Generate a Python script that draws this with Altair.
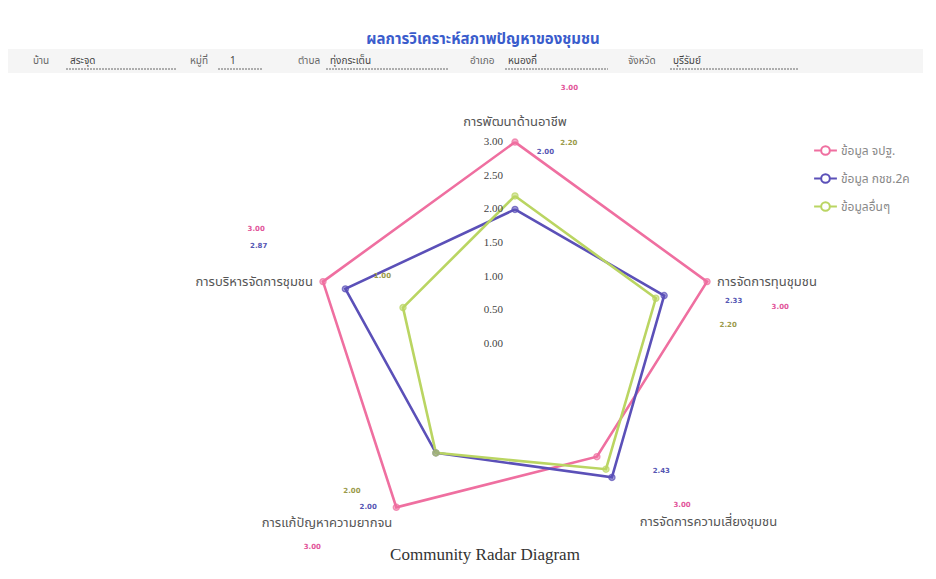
import altair as alt
import pandas as pd

# ---------------- data ----------------
axis_names = ["การพัฒนาด้านอาชีพ", "การจัดการทุนชุมชน", "การจัดการความเสี่ยงชุมชน",
              "การแก้ปัญหาความยากจน", "การบริหารจัดการชุมชน"]
series_names = ["ข้อมูล จปฐ.", "ข้อมูล กชช.2ค", "ข้อมูลอื่นๆ"]
vals_jpt = [3.00, 3.00, 2.07, 3.00, 3.00]
vals_kcc = [2.00, 2.33, 2.45, 2.00, 2.65]
vals_other = [2.20, 2.20, 2.30, 2.00, 1.75]
labels_jpt = ["3.00", "3.00", "3.00", "3.00", "3.00"]
labels_kcc = ["2.00", "2.33", "2.43", "2.00", "2.87"]
labels_other = ["2.20", "2.20", "", "2.00", "1.00"]
tick_values = [0.0, 0.5, 1.0, 1.5, 2.0, 2.5, 3.0]
header_labels = ["บ้าน", "หมู่ที่", "ตำบล", "อำเภอ", "จังหวัด"]
header_values = ["สระจุด", "1", "ทุ่งกระเต็น", "หนองกี่", "บุรีรัมย์"]

# ---------------- styling / layout ----------------
line_colors = ["#ef6fa0", "#5b50b8", "#bad562"]
label_colors = ["#e2559a", "#5656b3", "#9a9a4a"]
label_gap = [0.89, 0.98, 0.45, 1.26, 1.21]   # radial gap of value labels per axis
label_turn = [-12, -10, 10, -9, -6]          # angular nudge (deg) per axis
series_turn = [0, 3, -3]                     # angular nudge (deg) per series
W, H = 915, 561
PX = 67.3            # pixels per unit
CX, CY = 507, 336    # centre of the radar in plot pixels
xdom = [-CX / PX, (W - CX) / PX]
ydom = [-(H - CY) / PX, CY / PX]
header_label_x = [25, 182, 290, 462, 620]
header_value_x = [62, 222, 322, 500, 665]
header_line = [(58, 168), (210, 255), (318, 440), (497, 600), (662, 790)]
THAI = "Noto Sans Thai, Noto Sans, Loma, sans-serif"

X = alt.X("x:Q", scale=alt.Scale(domain=xdom, nice=False, zero=False), axis=None)
Y = alt.Y("y:Q", scale=alt.Scale(domain=ydom, nice=False, zero=False), axis=None)

rows = []
for s, vals in zip(series_names, [vals_jpt, vals_kcc, vals_other]):
    for i in range(6):
        rows.append({"series": s, "axis": i % 5, "order": i, "value": vals[i % 5], "turn": 0})
df = pd.DataFrame(rows)

lab_rows = []
for s, labs, st in zip(series_names, [labels_jpt, labels_kcc, labels_other], series_turn):
    for i, t in enumerate(labs):
        if t:
            lab_rows.append({"series": s, "axis": i, "text": t,
                             "value": float(t) + label_gap[i], "turn": label_turn[i] + st})
df_lab = pd.DataFrame(lab_rows)

df_axes = pd.DataFrame({"axis": list(range(5)), "name": axis_names,
                        "value": [max(tick_values)] * 5, "turn": [0] * 5})
df_ticks = pd.DataFrame({"axis": [0] * len(tick_values), "value": tick_values,
                         "turn": [0] * len(tick_values),
                         "text": [f"{v:.2f}" for v in tick_values]})

ANG = "(90 - 72*datum.axis + datum.turn)*PI/180"

def polar(chart):
    return chart.transform_calculate(
        x=f"cos({ANG})*datum.value", y=f"sin({ANG})*datum.value")

sym = "M-1,0L-0.38,0M0.38,0L1,0M-0.38,0A0.38,0.38,0,1,0,0.38,0A0.38,0.38,0,1,0,-0.38,0"

lines = polar(alt.Chart(df)).mark_line(strokeWidth=2.6).encode(
    x=X, y=Y, order="order:Q",
    color=alt.Color("series:N", scale=alt.Scale(domain=series_names, range=line_colors),
                    legend=alt.Legend(orient="none", legendX=805, legendY=130, title=None,
                                      symbolType=sym, symbolSize=520, symbolStrokeWidth=2,
                                      labelFontSize=12, labelColor="#888", labelFont=THAI,
                                      rowPadding=7, labelOffset=3)))

pts_fill = polar(alt.Chart(df)).transform_filter("datum.order < 5").mark_circle(
    size=38, opacity=0.55).encode(
    x=X, y=Y,
    color=alt.Color("series:N", scale=alt.Scale(domain=series_names, range=line_colors), legend=None))
pts_ring = polar(alt.Chart(df)).transform_filter("datum.order < 5").mark_point(
    size=38, strokeWidth=1.3, filled=False).encode(
    x=X, y=Y,
    color=alt.Color("series:N", scale=alt.Scale(domain=series_names, range=line_colors), legend=None))

ticks = polar(alt.Chart(df_ticks)).mark_text(
    font="Liberation Serif", fontSize=11, color="#444", align="right", baseline="middle",
    dx=-12).encode(x=X, y=Y, text="text:N")

vlabels = polar(alt.Chart(df_lab)).mark_text(
    font="DejaVu Sans", fontSize=7, fontWeight="bold", align="center", baseline="middle").encode(
    x=X, y=Y, text="text:N",
    color=alt.Color("series:N", scale=alt.Scale(domain=series_names, range=label_colors), legend=None))

axis_style = [
    dict(align="center", baseline="middle", dx=0, dy=-20),
    dict(align="left", baseline="middle", dx=10, dy=0),
    dict(align="left", baseline="middle", dx=6, dy=15),
    dict(align="right", baseline="middle", dx=-4, dy=16),
    dict(align="right", baseline="middle", dx=-10, dy=0),
]
axis_layers = []
for k, st in enumerate(axis_style):
    axis_layers.append(
        polar(alt.Chart(df_axes)).transform_filter(f"datum.axis == {k}").mark_text(
            font=THAI, fontSize=13, color="#555", **st).encode(x=X, y=Y, text="name:N"))

# header band, title, form fields
band = alt.Chart(pd.DataFrame({"a": [0]})).mark_rect(color="#f5f5f5").encode(
    x=alt.value(0), x2=alt.value(W), y=alt.value(41), y2=alt.value(65))
title = alt.Chart(pd.DataFrame({"t": ["ผลการวิเคราะห์สภาพปัญหาของชุมชน"]})).mark_text(
    font=THAI, fontSize=15, fontWeight="bold", color="#3a5ccc", align="center",
    baseline="middle").encode(x=alt.value(475), y=alt.value(31), text="t:N")

df_head = pd.DataFrame({"label": header_labels, "value": header_values,
                        "lx": header_label_x, "vx": header_value_x,
                        "u0": [a for a, b in header_line], "u1": [b for a, b in header_line]})
head_lab = alt.Chart(df_head).mark_text(font=THAI, fontSize=10, color="#666", align="left",
                                         baseline="middle").encode(
    x=alt.X("lx:Q", scale=None), y=alt.value(53), text="label:N")
head_val = alt.Chart(df_head).mark_text(font=THAI, fontSize=10, color="#444", align="left",
                                         baseline="middle").encode(
    x=alt.X("vx:Q", scale=None), y=alt.value(53), text="value:N")
head_line = alt.Chart(df_head).mark_rule(color="#666", strokeDash=[2, 1], strokeWidth=1).encode(
    x=alt.X("u0:Q", scale=None), x2="u1:Q", y=alt.value(61))

bottom = alt.Chart(pd.DataFrame({"t": ["Community Radar Diagram"]})).mark_text(
    font="Liberation Serif", fontSize=17, color="#333", align="center", baseline="middle").encode(
    x=alt.value(477), y=alt.value(547), text="t:N")

chart = alt.layer(
    band, title, head_line, head_lab, head_val,
    lines, pts_fill, pts_ring, ticks, vlabels, *axis_layers, bottom
).resolve_scale(color="independent").properties(
    width=W, height=H, padding=0, autosize=alt.AutoSizeParams(type="none")
).configure_view(stroke=None)

chart.save("out.html", embed_options={"renderer": "svg", "actions": False})
